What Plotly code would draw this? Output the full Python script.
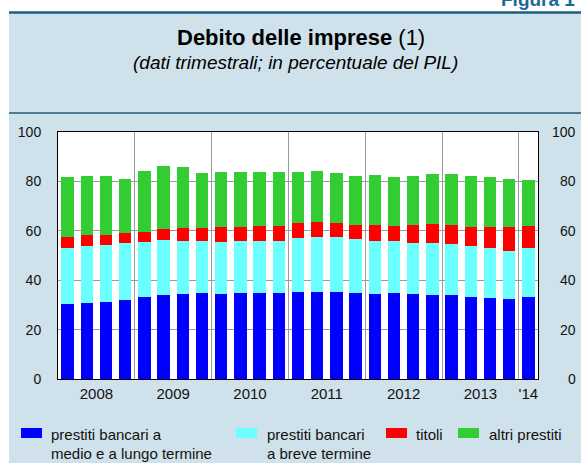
import plotly.graph_objects as go

# ---------------- data ----------------
quarters = [f"{y} T{q}" for y in range(2008, 2014) for q in range(1, 5)] + ["2014 T1"]
blue_mlt = [30.5, 30.9, 31.1, 31.9, 33.4, 34.2, 34.6, 34.9, 34.6, 35.0, 35.0, 35.0,
            35.3, 35.3, 35.1, 35.0, 34.6, 34.7, 34.5, 33.9, 33.9, 33.2, 32.8, 32.4, 33.2]
cyan_bt = [22.7, 22.9, 23.1, 23.2, 21.9, 21.9, 21.3, 20.8, 20.7, 20.7, 20.8, 20.7,
           21.7, 22.1, 22.5, 21.5, 21.1, 21.1, 20.6, 21.1, 20.6, 20.6, 20.2, 19.6, 20.0]
red_titoli = [4.2, 4.3, 4.2, 4.0, 4.4, 4.8, 5.3, 5.5, 6.1, 5.9, 6.0, 6.3,
              6.2, 6.0, 5.6, 5.7, 6.5, 6.0, 7.1, 7.6, 7.7, 7.8, 8.6, 9.4, 8.8]
green_altri = [24.5, 24.1, 23.8, 22.0, 24.5, 25.2, 24.5, 22.4, 22.4, 22.3, 22.1, 21.8,
               20.7, 20.7, 20.2, 19.8, 20.2, 20.0, 19.8, 20.2, 20.6, 20.4, 20.0, 19.7, 18.4]

series_names = ["prestiti bancari a medio e a lungo termine",
                "prestiti bancari a breve termine", "titoli", "altri prestiti"]
series_values = [blue_mlt, cyan_bt, red_titoli, green_altri]
series_colors = ["#0000ff", "#6bffff", "#ff0000", "#33cc33"]

year_tick_pos = [1.5, 5.5, 9.5, 13.5, 17.5, 21.5, 24]
year_tick_text = ["2008", "2009", "2010", "2011", "2012", "2013", "'14"]
y_ticks = [0, 20, 40, 60, 80, 100]

# ---------------- geometry helpers (pixels -> paper) ----------------
W, H = 581, 463
ML, MR, MT, MB = 58, 43, 132, 84
PW, PH = W - ML - MR, H - MT - MB


def px(x):
    return (x - ML) / PW


def py(y):
    return (H - MB - y) / PH


FONT = "Liberation Sans, Arial, Helvetica, sans-serif"
PANEL = "#cfe1eb"

x = list(range(len(quarters)))
fig = go.Figure()
for name, vals, col in zip(series_names, series_values, series_colors):
    fig.add_trace(go.Bar(x=x, y=vals, name=name, marker=dict(color=col, line=dict(width=0)),
                         customdata=quarters, hovertemplate="%{customdata}: %{y}<extra>" + name + "</extra>",
                         showlegend=False))

fig.update_layout(
    width=W, height=H,
    margin=dict(l=ML, r=MR, t=MT, b=MB),
    barmode="stack", bargap=0.35,
    paper_bgcolor=PANEL, plot_bgcolor="white",
    font=dict(family=FONT, color="#111111", size=14),
    xaxis=dict(range=[-0.5, len(x) - 0.5], tickmode="array", tickvals=year_tick_pos,
               ticktext=year_tick_text, showgrid=False, showline=True, linecolor="black",
               linewidth=1, mirror=True, ticks="", tickfont=dict(size=15), ticklabelstandoff=1,
               minor=dict(tick0=-0.5, dtick=4, showgrid=True, gridcolor="#9a9a9a", gridwidth=1)),
    yaxis=dict(range=[0, 100], tickmode="array", tickvals=y_ticks, showgrid=True,
               gridcolor="#9a9a9a", gridwidth=1, showline=True, linecolor="black", linewidth=1,
               mirror=True, ticks="", tickfont=dict(size=14), ticklabelstandoff=13, zeroline=False),
)

shapes = [
    # white strips outside the panel
    dict(type="rect", xref="paper", yref="paper", x0=px(0), x1=px(W), y0=py(12), y1=py(0),
         fillcolor="white", line=dict(width=0), layer="below"),
    dict(type="rect", xref="paper", yref="paper", x0=px(0), x1=px(9), y0=py(H), y1=py(0),
         fillcolor="white", line=dict(width=0), layer="below"),
    # header rules
    dict(type="line", xref="paper", yref="paper", x0=px(9), x1=px(W), y0=py(12.5), y1=py(12.5),
         line=dict(color="#1b5e80", width=2.5)),
    dict(type="line", xref="paper", yref="paper", x0=px(9), x1=px(W), y0=py(113), y1=py(113),
         line=dict(color="#4a7d94", width=2)),
]

annotations = [
    dict(text="<b>Figura 1</b>", xref="paper", yref="paper", x=px(499), y=py(12),
         xanchor="left", yanchor="bottom", showarrow=False,
         font=dict(size=19, color="#1a6a92", family=FONT)),
    dict(text="<b>Debito delle imprese</b> (1)", xref="paper", yref="paper", x=px(301), y=py(38),
         xanchor="center", yanchor="middle", showarrow=False, font=dict(size=22, color="#000000")),
    dict(text="<i>(dati trimestrali; in percentuale del PIL)</i>", xref="paper", yref="paper",
         x=px(295), y=py(63), xanchor="center", yanchor="middle", showarrow=False,
         font=dict(size=19, color="#000000")),
]

# right-hand value labels (right aligned)
for v in y_ticks:
    annotations.append(dict(text=str(v), xref="paper", yref="y", x=px(578), y=v,
                            xanchor="right", yanchor="middle", showarrow=False,
                            font=dict(size=14, color="#111111")))

# legend (manual)
legend_items = [
    (21, 49, ["prestiti bancari a", "medio e a lungo termine"], series_colors[0]),
    (236, 265, ["prestiti bancari", "a breve termine"], series_colors[1]),
    (386, 414, ["titoli"], series_colors[2]),
    (458, 487, ["altri prestiti"], series_colors[3]),
]
for sx, tx, lines, col in legend_items:
    shapes.append(dict(type="rect", xref="paper", yref="paper", x0=px(sx), x1=px(sx + 21),
                       y0=py(438), y1=py(428), fillcolor=col, line=dict(width=0)))
    for i, line in enumerate(lines):
        annotations.append(dict(text=line, xref="paper", yref="paper", x=px(tx), y=py(434 + 19 * i),
                                xanchor="left", yanchor="middle", showarrow=False,
                                font=dict(size=15, color="#111111")))

fig.update_layout(shapes=shapes, annotations=annotations)
fig.write_html("out.html", config={"displayModeBar": False},
               post_script="document.body.style.margin='0';document.body.style.padding='0';"
                           "document.body.style.overflow='hidden';")
